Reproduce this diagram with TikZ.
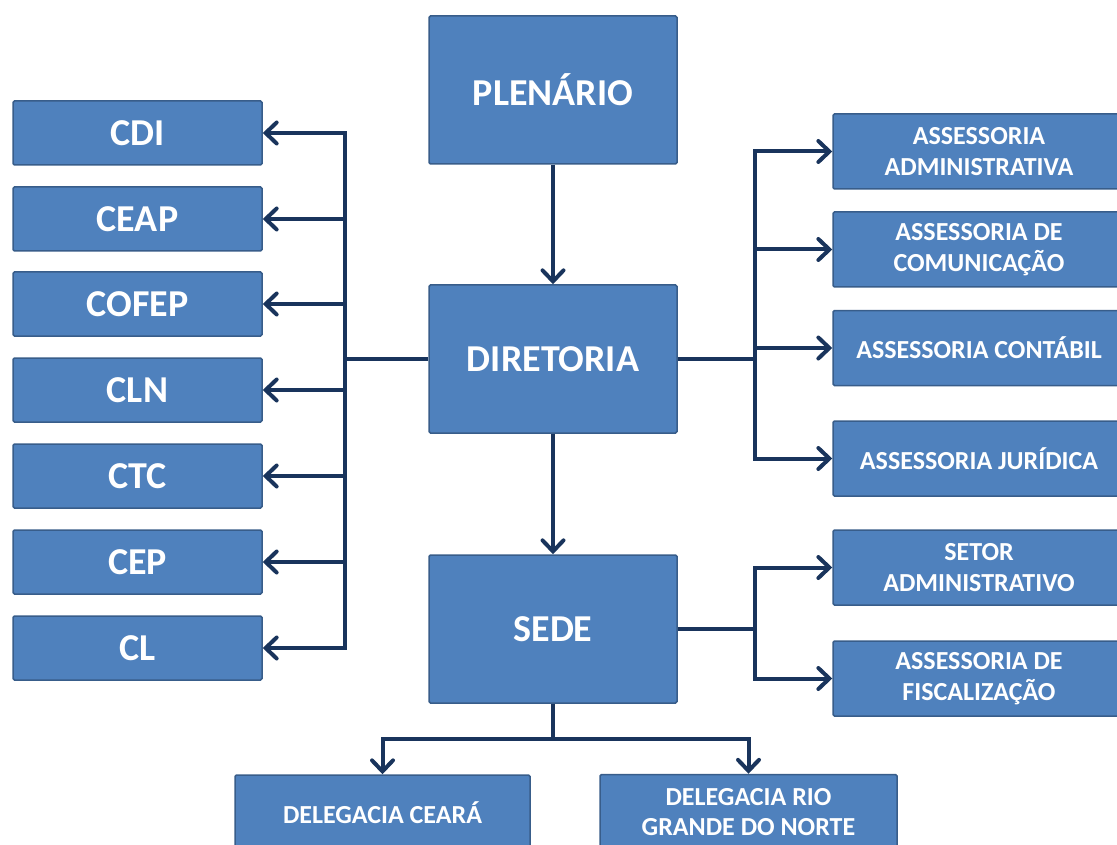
\documentclass[tikz,border=0pt]{standalone}
\usepackage{fontspec}
\setmainfont{Carlito}
\usetikzlibrary{arrows.meta}
\tikzset{
  caixa/.style={draw=borda, fill=azul, line width=1.5pt, rounded corners=1.5pt, text=white, align=center, inner sep=0pt},
  central/.style={caixa, minimum width=248pt, minimum height=148pt, font=\fontsize{38}{45}\selectfont\bfseries},
  comissao/.style={caixa, minimum width=249pt, minimum height=64pt, font=\fontsize{38}{45}\selectfont\bfseries},
  setor/.style={caixa, minimum width=292pt, minimum height=75pt, font=\fontsize{26}{30.5}\selectfont\bfseries},
  ligacao/.style={draw=linha, line width=4pt},
  seta/.style={ligacao, -{Straight Barb[length=11pt,width=21pt,line cap=round]}}
}
\begin{document}
\begin{tikzpicture}[x=1pt,y=-1pt]
			\definecolor{azul}{RGB}{79,129,189}
			\definecolor{borda}{RGB}{56,93,138}
			\definecolor{linha}{RGB}{25,52,92}
			\clip (0,0) rectangle (1117,845);
			\fill[white] (0,0) rectangle (1117,845);
			\node[central] (plenario) at (553,90) {PLENÁRIO};
			\node[central] (diretoria) at (553,359) {DIRETORIA};
			\node[central] (sede) at (553,629) {SEDE};
			\node[comissao] (cdi) at (137.5,133) {CDI};
			\node[comissao] (ceap) at (137.5,219) {CEAP};
			\node[comissao] (cofep) at (137.5,304) {COFEP};
			\node[comissao] (cln) at (137.5,390) {CLN};
			\node[comissao] (ctc) at (137.5,476) {CTC};
			\node[comissao] (cep) at (137.5,562) {CEP};
			\node[comissao] (cl) at (137.5,648) {CL};
			\node[setor] (admin) at (979,151.5) {ASSESSORIA\\ADMINISTRATIVA};
			\node[setor] (comunic) at (979,249.5) {ASSESSORIA DE\\COMUNICAÇÃO};
			\node[setor] (contabil) at (979,348) {ASSESSORIA CONTÁBIL};
			\node[setor] (juridica) at (979,458.5) {ASSESSORIA JURÍDICA};
			\node[setor] (setoradm) at (979,567.5) {SETOR\\ADMINISTRATIVO};
			\node[setor] (fiscal) at (979,678.5) {ASSESSORIA DE\\FISCALIZAÇÃO};
			\node[setor, minimum width=295pt] (ceara) at (382.5,812.5) {DELEGACIA CEARÁ};
			\node[setor, minimum width=297pt] (rn) at (748.5,812) {DELEGACIA RIO\\GRANDE DO NORTE};
			\coordinate (barraE) at (345,0);
			\coordinate (barraD) at (755,0);
			\coordinate (barraS) at (0,739);
			\draw[seta] (plenario) -- (diretoria);
			\draw[seta] (diretoria) -- (sede);
			\draw[ligacao] (diretoria.west) -- (barraE |- diretoria.west);
			\draw[ligacao, line cap=rect] (barraE |- cdi.east) -- (barraE |- cl.east);
			\draw[seta] (barraE |- cdi.east) -- (cdi.east);
			\draw[seta] (barraE |- ceap.east) -- (ceap.east);
			\draw[seta] (barraE |- cofep.east) -- (cofep.east);
			\draw[seta] (barraE |- cln.east) -- (cln.east);
			\draw[seta] (barraE |- ctc.east) -- (ctc.east);
			\draw[seta] (barraE |- cep.east) -- (cep.east);
			\draw[seta] (barraE |- cl.east) -- (cl.east);
			\draw[ligacao] (diretoria.east) -- (barraD |- diretoria.east);
			\draw[ligacao, line cap=rect] (barraD |- admin.west) -- (barraD |- juridica.west);
			\draw[seta] (barraD |- admin.west) -- (admin.west);
			\draw[seta] (barraD |- comunic.west) -- (comunic.west);
			\draw[seta] (barraD |- contabil.west) -- (contabil.west);
			\draw[seta] (barraD |- juridica.west) -- (juridica.west);
			\draw[ligacao] (sede.east) -- (barraD |- sede.east);
			\draw[ligacao, line cap=rect] (barraD |- setoradm.west) -- (barraD |- fiscal.west);
			\draw[seta] (barraD |- setoradm.west) -- (setoradm.west);
			\draw[seta] (barraD |- fiscal.west) -- (fiscal.west);
			\draw[ligacao] (sede.south) -- (sede.south |- barraS);
			\draw[ligacao, line cap=rect] (ceara.north |- barraS) -- (rn.north |- barraS);
			\draw[seta] (ceara.north |- barraS) -- (ceara.north);
			\draw[seta] (rn.north |- barraS) -- (rn.north);
		\end{tikzpicture}
\end{document}
